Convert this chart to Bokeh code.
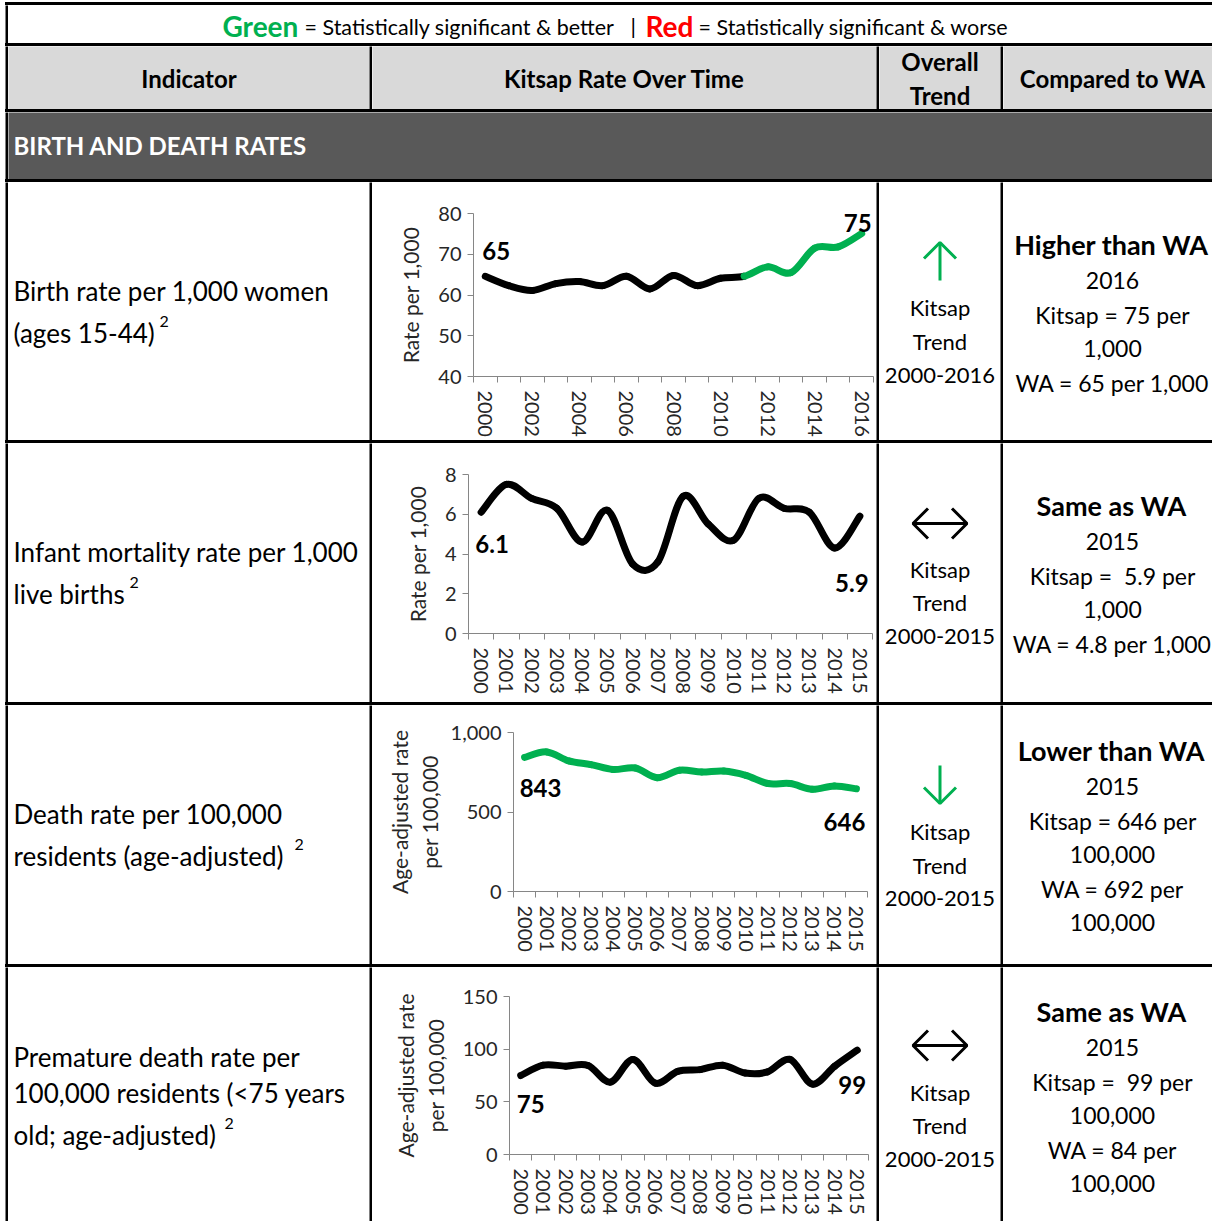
import math
from bokeh.plotting import figure
from bokeh.layouts import row, column
from bokeh.models import Range1d, FixedTicker, NumeralTickFormatter, Label, Spacer
from bokeh.embed import file_html
from bokeh.resources import INLINE
from bokeh.core.properties import value

FONT = "Lato"
GREEN = "#00b050"
RED = "#ff0000"
NB = "\u00a0"

# ---------------- data ----------------
years_birth = list(range(2000, 2017))
birth_rate = [64.6, 62.3, 61.1, 62.8, 63.3, 62.3, 64.6, 61.5, 64.8, 62.3, 64.1, 64.6, 66.9, 65.5, 71.5, 71.8, 75.1]
birth_green_from = 2011

years_15 = list(range(2000, 2016))
infant_mortality = [6.1, 7.5, 6.8, 6.3, 4.6, 6.2, 3.5, 3.6, 6.9, 5.5, 4.7, 6.8, 6.3, 6.1, 4.3, 5.9]
death_rate = [843, 878, 821, 798, 767, 777, 716, 763, 752, 758, 731, 679, 679, 643, 664, 646]
premature_death = [75, 84.8, 83.9, 84.5, 68.7, 90.3, 67.7, 79.0, 80.6, 84.8, 77.4, 78.4, 90.3, 66.8, 83.9, 99]

indicators = [
    ["Birth rate per 1,000 women", "(ages 15-44)"],
    ["Infant mortality rate per 1,000", "live births"],
    ["Death rate per 100,000", "residents (age-adjusted)"],
    ["Premature death rate per", "100,000 residents (<75 years", "old; age-adjusted)"],
]
footnote = "2"
trend_years = ["2000-2016", "2000-2015", "2000-2015", "2000-2015"]
trend_kind = ["up", "both", "down", "both"]
compare_head = ["Higher than WA", "Same as WA", "Lower than WA", "Same as WA"]
compare_lines = [
    ["2016", "Kitsap = 75 per", "1,000", "WA = 65 per 1,000"],
    ["2015", "Kitsap = " + NB + "5.9 per", "1,000", "WA = 4.8 per 1,000"],
    ["2015", "Kitsap = 646 per", "100,000", "WA = 692 per", "100,000"],
    ["2015", "Kitsap = " + NB + "99 per", "100,000", "WA = 84 per", "100,000"],
]

# ---------------- layout sizes ----------------
PADL, PADT = 5, 2
COLW = [361, 504, 121, 209]
SEP = 3
TABW = sum(COLW) + 4 * SEP
ROWH = [258, 259, 259, 254]
LEGH, HH, SECH = 38, 63, 67


def base(w, h, bg="white"):
    p = figure(width=w, height=h, x_range=Range1d(0, w), y_range=Range1d(h, 0),
               min_border=0, toolbar_location=None, output_backend="svg",
               x_axis_type=None, y_axis_type=None, background_fill_color=bg,
               border_fill_color=bg, outline_line_color=None, frame_align=False)
    return p


def sep(w, h):
    p = figure(width=w, height=h, min_border=0, toolbar_location=None, output_backend="svg",
               x_axis_type=None, y_axis_type=None, background_fill_color="black",
               border_fill_color="black", outline_line_color=None, frame_align=False)
    return p


def pad(w, h):
    return Spacer(width=w, height=h)


def hline(w):
    return Spacer(width=w, height=SEP, styles={"background-color": "black"})


def txt(p, x, y, s, size="22px", bold=False, color="black", align="center"):
    p.text(x=[x], y=[y], text=[s], text_font=value(FONT), text_font_size=size,
           text_font_style="bold" if bold else "normal", text_color=color,
           text_align=align, text_baseline="middle")


def hrow(cells, h):
    items = [pad(PADL, h)]
    for c in cells:
        items += [sep(SEP, h), c]
    return row(*items)


def smooth(xs, ys):
    n = len(xs)
    segs = {"x0": [], "y0": [], "x1": [], "y1": [], "cx0": [], "cy0": [], "cx1": [], "cy1": []}
    for i in range(n - 1):
        xa, ya = xs[max(i - 1, 0)], ys[max(i - 1, 0)]
        xb, yb = xs[i], ys[i]
        xc, yc = xs[i + 1], ys[i + 1]
        xd, yd = xs[min(i + 2, n - 1)], ys[min(i + 2, n - 1)]
        segs["x0"].append(xb); segs["y0"].append(yb)
        segs["x1"].append(xc); segs["y1"].append(yc)
        segs["cx0"].append(xb + (xc - xa) / 6.0); segs["cy0"].append(yb + (yc - ya) / 6.0)
        segs["cx1"].append(xc - (xd - xb) / 6.0); segs["cy1"].append(yc - (yd - yb) / 6.0)
    return segs


def draw_segments(p, segs, idx, color, lw=7):
    d = {k: [v[i] for i in idx] for k, v in segs.items()}
    p.bezier(x0=d["x0"], y0=d["y0"], x1=d["x1"], y1=d["y1"], cx0=d["cx0"], cy0=d["cy0"],
             cx1=d["cx1"], cy1=d["cy1"], line_color=color, line_width=lw, line_cap="round")


def chart(w, h, years, ymin, ymax, ystep, ytitle, borders, label_step=1, fmt=None, title_standoff=12):
    left, right, top, bottom = borders
    p = figure(width=w, height=h, x_range=Range1d(years[0] - 0.5, years[-1] + 0.5),
               y_range=Range1d(ymin, ymax), min_border_left=left, min_border_right=right,
               min_border_top=top, min_border_bottom=bottom, toolbar_location=None,
               output_backend="svg", outline_line_color=None, background_fill_color="white",
               border_fill_color="white", frame_align=False)
    p.grid.visible = False
    p.yaxis.ticker = FixedTicker(ticks=list(range(ymin, ymax + 1, ystep)))
    p.xaxis.ticker = FixedTicker(ticks=years[::label_step],
                                 minor_ticks=[y - 0.5 for y in years] + [years[-1] + 0.5])
    for ax in (p.xaxis[0], p.yaxis[0]):
        ax.axis_line_color = "#868686"
        ax.axis_line_width = 1
        ax.major_label_text_font = FONT
        ax.major_label_text_font_size = "20px"
        ax.major_label_text_color = "#262626"
    p.yaxis.major_tick_line_color = "#868686"
    p.yaxis.major_tick_out = 6
    p.yaxis.major_tick_in = 0
    p.yaxis.minor_tick_line_color = None
    p.yaxis.major_label_standoff = 6
    p.xaxis.major_tick_line_color = None
    p.xaxis.minor_tick_line_color = "#868686"
    p.xaxis.minor_tick_out = 6
    p.xaxis.minor_tick_in = 0
    p.xaxis.major_label_orientation = -math.pi / 2
    p.xaxis.major_label_standoff = 8
    p.yaxis.axis_label = ytitle
    p.yaxis.axis_label_text_font = FONT
    p.yaxis.axis_label_text_font_size = "21px"
    p.yaxis.axis_label_text_font_style = "normal"
    p.yaxis.axis_label_text_color = "#262626"
    p.yaxis.axis_label_standoff = title_standoff
    if fmt:
        p.yaxis.formatter = NumeralTickFormatter(format=fmt)
    return p


def data_label(p, x, y, s, dx, dy):
    p.add_layout(Label(x=x, y=y, text=s, x_offset=dx, y_offset=-dy, text_font=FONT,
                       text_font_size="24px", text_font_style="bold", text_color="black",
                       text_align="center", text_baseline="middle"))


# ---------------- top legend row ----------------
legend = base(TABW - SEP, LEGH)
txt(legend, 214, 20, "Green", size="28px", bold=True, color=GREEN, align="left")
txt(legend, 296, 21, "= Statistically significant & better", size="21.5px", align="left")
txt(legend, 622, 20, "|", size="22px", align="left")
txt(legend, 637, 20, "Red", size="28px", bold=True, color=RED, align="left")
txt(legend, 690, 21, "= Statistically significant & worse", size="21.5px", align="left")

# ---------------- header row ----------------
HBG = "#d9d9d9"
h0 = base(COLW[0], HH, HBG); txt(h0, COLW[0] / 2, 32, "Indicator", size="24px", bold=True)
h1 = base(COLW[1], HH, HBG); txt(h1, COLW[1] / 2, 32, "Kitsap Rate Over Time", size="24px", bold=True)
h2 = base(COLW[2], HH, HBG)
txt(h2, COLW[2] / 2, 15, "Overall", size="24px", bold=True)
txt(h2, COLW[2] / 2, 49, "Trend", size="24px", bold=True)
h3 = base(COLW[3], HH, HBG); txt(h3, 109, 32, "Compared to WA", size="24px", bold=True)

# ---------------- section row ----------------
section = base(TABW - SEP, SECH, "#595959")
txt(section, 5, 33, "BIRTH AND DEATH RATES", size="24px", bold=True, color="white", align="left")

# ---------------- chart cells ----------------
c1 = chart(COLW[1], ROWH[0], years_birth, 40, 80, 10, "Rate per 1,000", (101, 3, 31, 64), label_step=2)
segs = smooth(years_birth, birth_rate)
k = years_birth.index(birth_green_from)
draw_segments(c1, segs, range(0, k), "black")
draw_segments(c1, segs, range(k, len(years_birth) - 1), GREEN)
data_label(c1, years_birth[0], birth_rate[0], "65", 11, -25)
data_label(c1, years_birth[-1], birth_rate[-1], "75", -4, -10)

c2 = chart(COLW[1], ROWH[1], years_15, 0, 8, 2, "Rate per 1,000", (96, 4, 31, 69))
draw_segments(c2, smooth(years_15, infant_mortality), range(len(years_15) - 1), "black")
data_label(c2, years_15[0], infant_mortality[0], "6.1", 11, 32)
data_label(c2, years_15[-1], infant_mortality[-1], "5.9", -8, 67)

c3 = chart(COLW[1], ROWH[2], years_15, 0, 1000, 500, "Age-adjusted rate\nper 100,000", (141, 9, 27, 73),
           fmt="0,0", title_standoff=6)
draw_segments(c3, smooth(years_15, death_rate), range(len(years_15) - 1), GREEN)
data_label(c3, years_15[0], death_rate[0], "843", 16, 31)
data_label(c3, years_15[-1], death_rate[-1], "646", -12, 33)

c4 = chart(COLW[1], ROWH[3], years_15, 0, 150, 50, "Age-adjusted rate\nper 100,000", (137, 8, 29, 67))
draw_segments(c4, smooth(years_15, premature_death), range(len(years_15) - 1), "black")
data_label(c4, years_15[0], premature_death[0], "75", 10, 28)
data_label(c4, years_15[-1], premature_death[-1], "99", -5, 35)

charts = [c1, c2, c3, c4]

# ---------------- text cells per row ----------------
ind_y = [[108, 150], [108, 150], [108, 150], [89, 125, 167]]
sup_pos = [(151, 139), (121, 139), (286, 139), (216, 156)]
cmp_y = [[62, 98, 132, 166, 200], [62, 98, 132, 166, 200], [45, 81, 115, 149, 183, 217], [44, 80, 114, 148, 182, 216]]
trend_y = [[125, 159, 193], [126, 159, 193], [126, 160, 193], [125, 158, 192]]
arrow_y = [80, 80, 80, 78]

rows = []
for i in range(4):
    h = ROWH[i]
    a = base(COLW[0], h)
    for s, y in zip(indicators[i], ind_y[i]):
        txt(a, 5, y, s, size="26px", align="left")
    txt(a, sup_pos[i][0], sup_pos[i][1], footnote, size="16px", align="left")
    t = base(COLW[2], h)
    cx = COLW[2] / 2
    kind = trend_kind[i]
    if kind == "up":
        t.multi_line(xs=[[cx, cx], [cx - 16, cx, cx + 16]], ys=[[98, 60], [76, 60, 76]],
                     line_color=GREEN, line_width=3)
    elif kind == "down":
        t.multi_line(xs=[[cx, cx], [cx - 16, cx, cx + 16]], ys=[[60, 98], [82, 98, 82]],
                     line_color=GREEN, line_width=3)
    else:
        ay = arrow_y[i]
        t.multi_line(xs=[[cx - 27, cx + 27], [cx - 12, cx - 27, cx - 12], [cx + 12, cx + 27, cx + 12]],
                     ys=[[ay, ay], [ay - 15, ay, ay + 15], [ay - 15, ay, ay + 15]],
                     line_color="black", line_width=3)
    for s, y in zip(["Kitsap", "Trend", trend_years[i]], trend_y[i]):
        txt(t, cx, y, s, size="22px")
    c = base(COLW[3], h)
    ys = cmp_y[i]
    txt(c, 108, ys[0], compare_head[i], size="27px", bold=True)
    for s, y in zip(compare_lines[i], ys[1:]):
        txt(c, 109, y, s, size="23px")
    rows.append(hrow([a, charts[i], t, c], h))


def hsep():
    return row(pad(PADL, SEP), hline(TABW))


layout = column(
    pad(PADL + TABW, PADT),
    hsep(),
    row(pad(PADL, LEGH), sep(SEP, LEGH), legend),
    hsep(),
    hrow([h0, h1, h2, h3], HH),
    hsep(),
    row(pad(PADL, SECH), sep(SEP, SECH), section),
    hsep(),
    rows[0], hsep(),
    rows[1], hsep(),
    rows[2], hsep(),
    rows[3],
)

open("out.html", "w").write(file_html(layout, INLINE))
